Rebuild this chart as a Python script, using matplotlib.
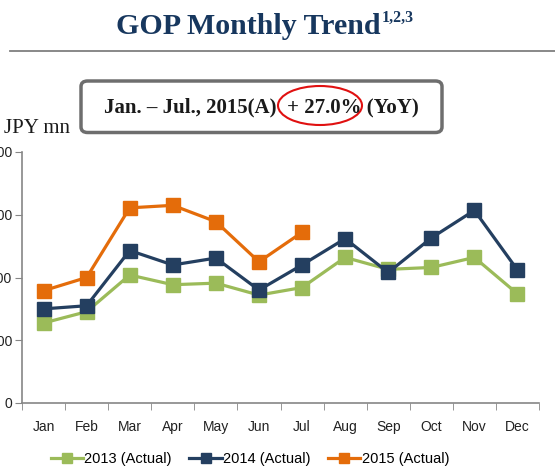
import numpy as np
import matplotlib
matplotlib.use("Agg")
import matplotlib.pyplot as plt
from matplotlib.patches import FancyBboxPatch, Ellipse

months = ['Jan', 'Feb', 'Mar', 'Apr', 'May', 'Jun', 'Jul', 'Aug', 'Sep', 'Oct', 'Nov', 'Dec']
gop_2013 = [255, 291, 408, 377, 382, 344, 368, 464, 426, 432, 464, 348]
gop_2014 = [300, 310, 486, 440, 462, 360, 440, 524, 416, 526, 614, 424]
gop_2015 = [358, 400, 622, 630, 578, 450, 544]
y_ticks = [0, 200, 400, 600, 800]
y_tick_labels = ['0', '200', '400', '600', '800']

c2013 = '#9BBB59'
c2014 = '#243F60'
c2015 = '#E46C0A'

W, H = 555, 467
fig = plt.figure(figsize=(W / 100, H / 100), dpi=100)

# axes placement in pixels (left tick labels are cut by the figure edge, as in the source)
x0, x1, y0, y1 = 22, 539, 403, 152
ax = fig.add_axes([x0 / W, 1 - y0 / H, (x1 - x0) / W, (y0 - y1) / H])

x = np.arange(len(months))
ax.plot(x, gop_2013, color=c2013, lw=2.3, marker='s', ms=9.5, label='2013 (Actual)')
ax.plot(x, gop_2014, color=c2014, lw=2.3, marker='s', ms=9.5, label='2014 (Actual)')
ax.plot(x[:len(gop_2015)], gop_2015, color=c2015, lw=2.3, marker='s', ms=9.5, label='2015 (Actual)')

ax.set_xlim(-0.5, 11.5)
ax.set_ylim(0, 800)
ax.set_yticks(y_ticks)
ax.set_yticklabels(y_tick_labels)
ax.set_xticks(x)
ax.set_xticklabels(months)
ax.set_xticks(np.arange(-0.5, 12, 1), minor=True)
ax.tick_params(axis='x', which='major', length=0, pad=12, labelsize=10, labelcolor='#222222')
ax.tick_params(axis='x', which='minor', length=5, color='#868686', direction='out')
ax.tick_params(axis='y', length=5, color='#868686', labelsize=10, labelcolor='#222222', pad=2)
for s in ['top', 'right']:
    ax.spines[s].set_visible(False)
for s in ['left', 'bottom']:
    ax.spines[s].set_color('#868686')
    ax.spines[s].set_linewidth(1.2)
for lbl in ax.get_xticklabels() + ax.get_yticklabels():
    lbl.set_fontfamily('Liberation Sans')

fig.legend(loc='center', bbox_to_anchor=(250 / W, 1 - 459 / H), ncol=3, frameon=False,
           prop={'family': 'Liberation Sans', 'size': 10.5}, handlelength=2.2,
           handletextpad=0.1, columnspacing=1.2, markerscale=0.75)

# title with superscript notes
fig.text(380 / W, 1 - 26 / H, 'GOP Monthly Trend', ha='right', va='center',
         fontsize=21.5, fontweight='bold', family='Liberation Serif', color='#17375E')
fig.text(382 / W, 1 - 18 / H, '1,2,3', ha='left', va='center',
         fontsize=11.5, fontweight='bold', family='Liberation Serif', color='#17375E')
fig.add_artist(plt.Line2D([10 / W, 1], [1 - 50.5 / H, 1 - 50.5 / H], color='#7F7F7F', lw=1.3))

# highlight box
box = FancyBboxPatch((81 / W, 1 - 132.5 / H), (442 - 81) / W, (132.5 - 81) / H,
                     boxstyle='round,pad=0,rounding_size=0.012', transform=fig.transFigure,
                     fill=False, edgecolor='#6E6E6E', lw=2.5)
fig.add_artist(box)
fig.text(261 / W, 1 - 107 / H, 'Jan. \u2013 Jul., 2015(A)  + 27.0% (YoY)', ha='center', va='center',
         fontsize=15, fontweight='bold', family='Liberation Serif', color='#1A1A1A')
fig.add_artist(Ellipse((320 / W, 1 - 105.5 / H), 84 / W, 39 / H, transform=fig.transFigure,
                       fill=False, edgecolor='#E01010', lw=1.5))

fig.text(4 / W, 1 - 128 / H, 'JPY mn', ha='left', va='center', fontsize=15,
         family='Liberation Serif', color='#1A1A1A')

fig.savefig('out.png', dpi=100)
